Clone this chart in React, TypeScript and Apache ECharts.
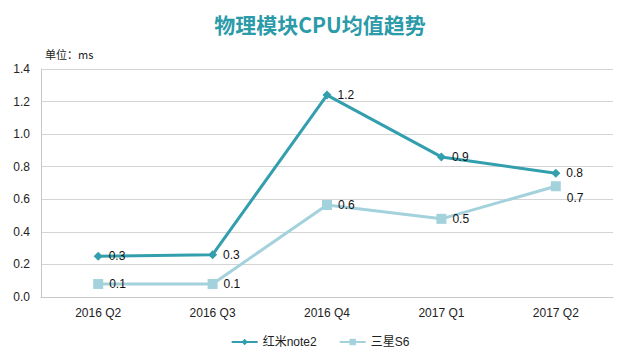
import React, { useEffect, useRef } from "react";
import * as echarts from "echarts";

const categories = ["2016 Q2", "2016 Q3", "2016 Q4", "2017 Q1", "2017 Q2"];
const redmiValues = [0.25, 0.26, 1.24, 0.86, 0.76];
const samsungValues = [0.08, 0.08, 0.565, 0.48, 0.68];
const seriesNames = ["红米note2", "三星S6"];
const titleText = "物理模块CPU均值趋势";
const unitText = "单位：ms";

const FONT = "'Liberation Sans', 'Noto Sans CJK SC', sans-serif";

export default function App() {
  const ref = useRef<HTMLDivElement>(null);
  useEffect(() => {
    if (!ref.current) return;
    const chart = echarts.init(ref.current, null, { renderer: "svg" });
    const labelFmt = (p: any) => Number(p.value).toFixed(1);
    chart.setOption({
      animation: false,
      backgroundColor: "#ffffff",
      title: {
        text: titleText,
        left: "center",
        top: 8,
        textStyle: {
          color: "#2b9aa9",
          fontSize: 21,
          fontWeight: "bold",
          fontFamily: "'Noto Sans CJK SC', sans-serif",
        },
      },
      graphic: [
        {
          type: "text",
          left: 45,
          top: 48,
          style: {
            text: unitText,
            fill: "#222",
            font: "11px 'Noto Sans CJK SC', sans-serif",
          },
        },
      ],
      legend: {
        top: 331,
        left: "center",
        itemWidth: 26,
        itemHeight: 8,
        itemGap: 22,
        textStyle: { color: "#222", fontSize: 12, fontFamily: FONT },
        data: seriesNames,
      },
      grid: { left: 41, right: 27, top: 69, bottom: 56 },
      xAxis: {
        type: "category",
        data: categories,
        boundaryGap: true,
        axisLine: { lineStyle: { color: "#c8c8c8" } },
        axisTick: { show: false },
        axisLabel: { color: "#222", fontSize: 12, margin: 10, fontFamily: FONT },
      },
      yAxis: {
        type: "value",
        min: 0,
        max: 1.4,
        interval: 0.2,
        axisLine: { show: true, lineStyle: { color: "#c8c8c8" } },
        axisTick: { show: false },
        splitLine: { lineStyle: { color: "#d4d4d4" } },
        axisLabel: {
          color: "#222",
          fontSize: 12,
          margin: 11,
          fontFamily: FONT,
          formatter: (v: number) => v.toFixed(1),
        },
      },
      series: [
        {
          name: seriesNames[0],
          type: "line",
          data: redmiValues,
          symbol: "diamond",
          symbolSize: 9,
          itemStyle: { color: "#339fae" },
          lineStyle: { color: "#339fae", width: 3 },
          label: {
            show: true,
            position: "right",
            distance: 6,
            color: "#111",
            fontSize: 12,
            fontFamily: FONT,
            formatter: labelFmt,
          },
          z: 3,
        },
        {
          name: seriesNames[1],
          type: "line",
          data: samsungValues,
          symbol: "rect",
          symbolSize: 10,
          itemStyle: { color: "#a3d2dd" },
          lineStyle: { color: "#a3d2dd", width: 3 },
          label: {
            show: true,
            position: "right",
            distance: 6,
            color: "#111",
            fontSize: 12,
            fontFamily: FONT,
            formatter: labelFmt,
          },
          labelLayout: (params: any) =>
            params.dataIndex === 4 ? { dy: 12 } : {},
          z: 2,
        },
      ],
    });
    return () => chart.dispose();
  }, []);
  return (
    <div
      ref={ref}
      style={{ position: "fixed", left: 0, top: 0, width: 640, height: 353 }}
    />
  );
}
